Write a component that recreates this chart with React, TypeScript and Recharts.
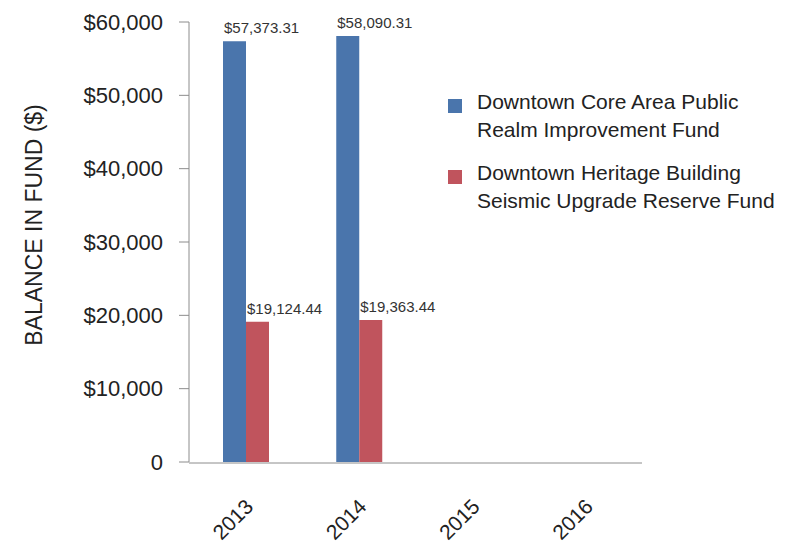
import { BarChart, Bar, XAxis, YAxis, LabelList } from "recharts";

const years = ["2013", "2014", "2015", "2016"];
const coreFund = [57373.31, 58090.31, null, null];
const heritageFund = [19124.44, 19363.44, null, null];
const seriesNames = [
  ["Downtown Core Area Public", "Realm Improvement Fund"],
  ["Downtown Heritage Building", "Seismic Upgrade Reserve Fund"],
];
const seriesColors = ["#4A75AC", "#C0545D"];
const yTicks = [0, 10000, 20000, 30000, 40000, 50000, 60000];
const edgeTicks = [0, 1, 2, 3, 4];

const FONT = "'Liberation Sans', Arial, sans-serif";
const AXIS = "#8c8c8c";

const data = years.map((year, i) => ({
  year,
  core: coreFund[i],
  heritage: heritageFund[i],
}));

const money = (v: number) =>
  "$" + v.toLocaleString("en-US", { minimumFractionDigits: 2, maximumFractionDigits: 2 });

const ValueLabel = (props: any) => {
  const { x, y, value } = props;
  if (value == null) return null;
  return (
    <text x={x + 1} y={y - 8} fontSize={15} fill="#333" fontFamily={FONT}>
      {money(value)}
    </text>
  );
};

const YearTick = (props: any) => {
  const { x, y, payload } = props;
  const tx = x + 9;
  const ty = y + 38;
  return (
    <text
      x={tx}
      y={ty}
      transform={`rotate(-45, ${tx}, ${ty})`}
      textAnchor="end"
      fontSize={21}
      fill="#222"
      fontFamily={FONT}
    >
      {payload.value}
    </text>
  );
};

const AxisTitle = () => (
  <text
    transform="translate(42, 225) rotate(-90)"
    textAnchor="middle"
    fontSize={23}
    fill="#222"
    fontFamily={FONT}
  >
    BALANCE IN FUND ($)
  </text>
);

export default function App() {
  return (
    <div style={{ position: "absolute", left: 0, top: 0, width: 810, height: 543, background: "#fff" }}>
      <BarChart
        width={810}
        height={543}
        data={data}
        margin={{ top: 22, right: 168, bottom: 0, left: 0 }}
        barGap={0}
        barSize={23}
      >
        <XAxis
          xAxisId="cat"
          dataKey="year"
          height={1}
          axisLine={false}
          tickLine={false}
          interval={0}
          tick={<YearTick />}
        />
        <XAxis
          xAxisId="edges"
          type="number"
          domain={[0, 4]}
          ticks={edgeTicks}
          tick={false}
          tickSize={8}
          height={80}
          stroke={AXIS}
          allowDataOverflow
        />
        <YAxis
          domain={[0, 60000]}
          ticks={yTicks}
          width={189}
          tickSize={10}
          tickMargin={16}
          stroke={AXIS}
          tick={{ fill: "#222", fontSize: 22, fontFamily: FONT }}
          tickFormatter={(v: number) => (v === 0 ? "0" : "$" + v.toLocaleString("en-US"))}
          label={<AxisTitle />}
        />
        <Bar xAxisId="cat" dataKey="core" fill={seriesColors[0]} isAnimationActive={false}>
          <LabelList dataKey="core" content={<ValueLabel />} />
        </Bar>
        <Bar xAxisId="cat" dataKey="heritage" fill={seriesColors[1]} isAnimationActive={false}>
          <LabelList dataKey="heritage" content={<ValueLabel />} />
        </Bar>
      </BarChart>
      <div style={{ position: "absolute", left: 448, top: 88, fontFamily: FONT, fontSize: 21, color: "#222" }}>
        {seriesNames.map((lines, i) => (
          <div key={i} style={{ display: "flex", alignItems: "flex-start", marginBottom: 15 }}>
            <span
              style={{
                width: 14,
                height: 14,
                background: seriesColors[i],
                marginTop: 11,
                marginRight: 15,
                flexShrink: 0,
              }}
            />
            <div style={{ lineHeight: "28px", whiteSpace: "nowrap" }}>
              {lines.map((l) => (
                <div key={l}>{l}</div>
              ))}
            </div>
          </div>
        ))}
      </div>
    </div>
  );
}
